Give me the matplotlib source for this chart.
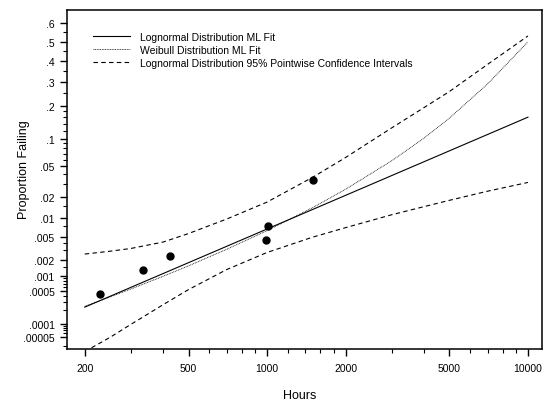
import numpy as np
import matplotlib
matplotlib.use("Agg")
import matplotlib.pyplot as plt
from statistics import NormalDist

plt.rcParams['font.family'] = ['Liberation Sans', 'DejaVu Sans']

# observed failures (hours, proportion failing)
fail_hours = [229, 334, 423, 990, 1009, 1503]
fail_prop = [0.00043, 0.0013, 0.0023, 0.0044, 0.0074, 0.034]

# lognormal ML fit (straight on this paper)
logn_hours = [200, 10000]
logn_prop = [0.00023, 0.16]

grid_hours = [200, 250, 300, 400, 500, 700, 1000, 1500, 2000, 3000, 4000, 5000, 7000, 10000]

# weibull ML fit
weib_prop = [0.00024, 0.000378, 0.000548, 0.000985, 0.00155, 0.00308, 0.00634,
             0.0144, 0.0258, 0.058, 0.102, 0.157, 0.289, 0.5]

# lognormal 95% pointwise confidence bands
ci_upper = [0.00254, 0.00285, 0.00318, 0.00411, 0.00569, 0.00965, 0.0172,
            0.0371, 0.0634, 0.1277, 0.193, 0.256, 0.383, 0.531]
ci_lower = [2.16e-5, 4.77e-5, 9.5e-5, 0.000261, 0.000536, 0.00132, 0.00271,
            0.00498, 0.00708, 0.0112, 0.0148, 0.0182, 0.0243, 0.0317]

x_major = [200, 500, 1000, 2000, 5000, 10000]
x_minor = [300, 400, 600, 700, 800, 900, 1200, 1400, 1600, 1800,
           3000, 4000, 6000, 7000, 8000, 9000]
y_major = [.6, .5, .4, .3, .2, .1, .05, .02, .01, .005, .002, .001, .0005, .0001, .00005]
y_labels = ['.6', '.5', '.4', '.3', '.2', '.1', '.05', '.02', '.01', '.005', '.002',
            '.001', '.0005', '.0001', '.00005']
y_minor = [.55, .45, .35, .25, .18, .16, .14, .12, .09, .08, .07, .06, .04, .03,
           .015, .0075, .004, .003, .0015, .0009, .0008, .0007, .0006,
           .0004, .0003, .0002, .00009, .00008, .00007, .00006, .00003]

nd = NormalDist()


def prob_fwd(p):
    p = np.clip(np.asarray(p, dtype=float), 1e-12, 1 - 1e-12)
    return np.vectorize(nd.inv_cdf, otypes=[float])(p)


def prob_inv(q):
    return np.vectorize(nd.cdf, otypes=[float])(np.asarray(q, dtype=float))


fig = plt.figure(figsize=(5.5, 4.02), dpi=100)
ax = fig.add_axes([67 / 550, 52 / 402, 475 / 550, 339 / 402])
ax.set_xscale('log')
ax.set_yscale('function', functions=(prob_fwd, prob_inv))

ax.plot(logn_hours, logn_prop, color='black', lw=0.8,
        label='Lognormal Distribution ML Fit')
ax.plot(grid_hours, weib_prop, color='black', lw=0.6, ls=(0, (1, 1)),
        label='Weibull Distribution ML Fit')
ax.plot(grid_hours, ci_upper, color='black', lw=0.8, ls=(0, (4, 3)),
        label='Lognormal Distribution 95% Pointwise Confidence Intervals')
ax.plot(grid_hours, ci_lower, color='black', lw=0.8, ls=(0, (4, 3)))
ax.plot(fail_hours, fail_prop, 'o', color='black', ms=5, zorder=5)

ax.set_xlim(171, 11320)
ax.set_ylim(2.5e-5, 0.663)

ax.set_xticks(x_major)
ax.set_xticklabels([str(v) for v in x_major])
ax.set_xticks(x_minor, minor=True)
ax.set_xticklabels([], minor=True)
ax.set_yticks(y_major)
ax.set_yticklabels(y_labels)
ax.set_yticks(y_minor, minor=True)
ax.set_yticklabels([], minor=True)

ax.tick_params(which='major', length=5, width=1, labelsize=7.5, pad=4)
ax.tick_params(axis='x', which='major', pad=5)
ax.tick_params(which='minor', length=3, width=0.8)
for s in ax.spines.values():
    s.set_linewidth(1.1)

ax.set_xlabel('Hours', fontsize=9)
ax.set_ylabel('Proportion Failing', fontsize=9)
ax.xaxis.set_label_coords(0.49, -0.119)
ax.yaxis.set_label_coords(-0.078, 0.531)

ax.legend(loc='upper left', bbox_to_anchor=(0.045, 0.948), frameon=False,
          fontsize=7.5, handlelength=3.6, handletextpad=1.0, labelspacing=0.3,
          borderaxespad=0)

fig.savefig('out.png', dpi=100)
